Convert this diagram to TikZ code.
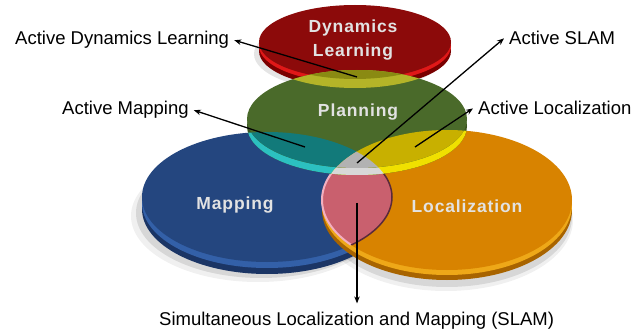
\documentclass[tikz,border=0pt]{standalone}
\usepackage{fontspec}
\setmainfont{Liberation Sans}
\usetikzlibrary{arrows.meta}
\definecolor{redtop}{HTML}{8C0A0A}
\definecolor{redside}{HTML}{E01818}
\definecolor{redsideD}{HTML}{7A0000}
\definecolor{greentop}{HTML}{4A6A2A}
\definecolor{greenside}{HTML}{3B5520}
\definecolor{bluetop}{HTML}{24467F}
\definecolor{blueside}{HTML}{3360A8}
\definecolor{bluesideD}{HTML}{1B3565}
\definecolor{orangetop}{HTML}{D88300}
\definecolor{orangeside}{HTML}{EEA818}
\definecolor{orangesideD}{HTML}{A86400}
\definecolor{tealtop}{HTML}{127A7A}
\definecolor{tealside}{HTML}{2CC0C0}
\definecolor{yeltop}{HTML}{C8B000}
\definecolor{yelside}{HTML}{F0E000}
\definecolor{graytop}{HTML}{B2B2B2}
\definecolor{grayside}{HTML}{D8D8D8}
\definecolor{pinktop}{HTML}{C9606E}
\definecolor{pinkrim}{HTML}{F2B0C0}
\definecolor{pinkdark}{HTML}{5A2A3A}
\definecolor{olivetop}{HTML}{8A8A12}
\definecolor{oliveside}{HTML}{B4B428}
\definecolor{labelgray}{HTML}{E2E2E2}
\def\discRT{(355,42) ellipse [x radius=96pt, y radius=37pt]}
\def\discRS{(355,51) ellipse [x radius=96pt, y radius=37pt]}
\def\discRM{(355,46) ellipse [x radius=96pt, y radius=37pt]}
\def\discGT{(357,119) ellipse [x radius=110pt, y radius=49pt]}
\def\discGS{(357,126) ellipse [x radius=110pt, y radius=49pt]}
\def\discBT{(267,197) ellipse [x radius=125pt, y radius=65pt]}
\def\discBS{(267,209) ellipse [x radius=125pt, y radius=65pt]}
\def\discBM{(267,203) ellipse [x radius=125pt, y radius=65pt]}
\def\discOT{(447,200) ellipse [x radius=125pt, y radius=70pt]}
\def\discOS{(447,210) ellipse [x radius=125pt, y radius=70pt]}
\def\discOM{(447,205) ellipse [x radius=125pt, y radius=70pt]}
\tikzset{
  disclabel/.style={font=\bfseries\addfontfeatures{LetterSpace=5}\fontsize{17.5}{24}\selectfont, text=labelgray, inner sep=0pt, align=center},
  callout/.style={font=\fontsize{18.5}{22}\selectfont, text=black, inner xsep=5pt, inner ysep=0pt},
  arr/.style={line width=1.3pt, -{Stealth[length=7pt,width=5.5pt]}},
  shadowfill/.style={fill=black, opacity=#1},
}
\begin{document}
\begin{tikzpicture}[x=1pt,y=-1pt]
\useasboundingbox (0,0) rectangle (643,334);
\fill[white] (0,0) rectangle (643,334);
% soft shadows
\fill[shadowfill=0.06] (258,216) ellipse [x radius=127pt, y radius=66pt];
\fill[shadowfill=0.10] (261,213) ellipse [x radius=125pt, y radius=65pt];
\fill[shadowfill=0.06] (446,220) ellipse [x radius=127pt, y radius=71pt];
\fill[shadowfill=0.10] (447,217) ellipse [x radius=125pt, y radius=70pt];
\fill[shadowfill=0.10] (350,54) ellipse [x radius=96pt, y radius=37pt];
% blue disc
\fill[bluesideD] \discBS;
\fill[blueside] \discBM;
\fill[bluetop] \discBT;
% orange disc
\fill[orangesideD] \discOS;
\fill[orangeside] \discOM;
\fill[orangetop] \discOT;
% blue and orange overlap
\begin{scope}
  \clip \discBT;
  \fill[pinktop] \discOT;
  \draw[pinkrim, line width=2pt] \discOT;
\end{scope}
\begin{scope}
  \clip \discOT;
  \draw[pinkdark, line width=1.5pt] \discBT;
\end{scope}
% red disc
\fill[redsideD] \discRS;
\fill[redside] \discRM;
\fill[redtop] \discRT;
% green disc side
\fill[greenside] \discGS;
\begin{scope}
  \clip \discGS;
  \fill[tealside] \discBT;
  \fill[yelside] \discOT;
  \clip \discBT;
  \fill[grayside] \discOT;
\end{scope}
% green disc top
\fill[greentop] \discGT;
\begin{scope}
  \clip \discGT;
  \fill[oliveside] \discRS;
  \fill[olivetop] \discRT;
  \fill[tealtop] \discBT;
  \fill[yeltop] \discOT;
  \clip \discBT;
  \fill[graytop] \discOT;
\end{scope}
% disc labels
\node[disclabel] (dyn) at (353,40) {Dynamics\\Learning};
\node[disclabel, anchor=base] (plan) at (358,117) {Planning};
\node[disclabel, anchor=base] (map) at (235,210) {Mapping};
\node[disclabel, anchor=base] (loc) at (467,212) {Localization};
% callout labels
\node[callout, anchor=base west] (adl) at (10,45) {Active Dynamics Learning};
\node[callout, anchor=base west] (am) at (57,115) {Active Mapping};
\node[callout, anchor=base west] (as) at (504,45) {Active SLAM};
\node[callout, anchor=base west] (al) at (473,115) {Active Localization};
\node[callout, anchor=base west, inner ysep=8pt] (slam) at (154,325) {Simultaneous Localization and Mapping (SLAM)};
% arrow tails
\coordinate (tadl) at (357,77);
\coordinate (tam) at (305,147);
\coordinate (tas) at (357,163);
\coordinate (tal) at (415,147);
\coordinate (tslam) at (357,203);
\draw[arr] (tadl) -- (adl.east);
\draw[arr] (tam) -- (am.east);
\draw[arr] (tas) -- (as.west);
\draw[arr] (tal) -- (al.west);
\draw[arr] (tslam) -- (tslam |- slam.north);
\end{tikzpicture}
\end{document}
